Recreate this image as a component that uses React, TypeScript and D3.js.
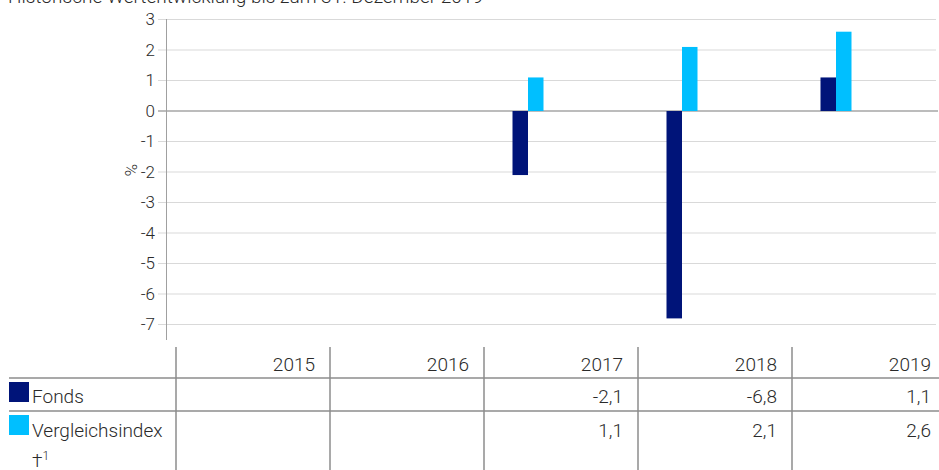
import React from "react";
import * as d3 from "d3";

const years = ["2015", "2016", "2017", "2018", "2019"];
const seriesNames = ["Fonds", "Vergleichsindex"];
const fonds: (number | null)[] = [null, null, -2.1, -6.8, 1.1];
const index: (number | null)[] = [null, null, 1.1, 2.1, 2.6];
const fondsLabels = ["", "", "-2,1", "-6,8", "1,1"];
const indexLabels = ["", "", "1,1", "2,1", "2,6"];
const yTicks = [3, 2, 1, 0, -1, -2, -3, -4, -5, -6, -7];
const colors = ["#001479", "#00bfff"];

const W = 939;
const H = 470;
const FONT = "Roboto, 'Liberation Sans', sans-serif";
const TXT = "#2a2a2a";

export default function App() {
  const y = d3.scaleLinear().domain([-7, 3]).range([324.5, 19.5]);
  const xBars = d3.scaleBand<string>().domain(years).range([143, 913]);
  const xSub = d3.scaleBand<string>().domain(seriesNames).range([0, 31]).padding(0);
  const offset = (xBars.bandwidth() - 31) / 2;
  const xTable = d3.scaleBand<string>().domain(years).range([176, 946]);
  const axisX = 166.5;
  const gridRight = 936;

  const series = [fonds, index];
  const labels = [fondsLabels, indexLabels];

  const rowLines = [378, 411];
  return (
    <svg width={W} height={H} style={{ position: "absolute", left: 0, top: 0, fontFamily: FONT, fontWeight: 300 }}>
      <text x={8} y={3} fontSize={19} fill={TXT}>
        Historische Wertentwicklung bis zum 31. Dezember 2019
      </text>
      {yTicks.map((t) => (
        <g key={t}>
          <line
            x1={158}
            x2={t === 0 ? 938 : gridRight}
            y1={y(t)}
            y2={y(t)}
            stroke={t === 0 ? "#a6a6a6" : "#d9d9d9"}
            strokeWidth={t === 0 ? 1.5 : 1}
          />
          <text x={155} y={y(t)} dy="0.35em" textAnchor="end" fontSize={17} fill={TXT}>
            {t < 0 ? "-" + Math.abs(t) : String(t)}
          </text>
        </g>
      ))}
      <line x1={axisX} x2={axisX} y1={19} y2={340} stroke="#a0a0a0" strokeWidth={1} />
      <text
        transform={`translate(131,170) rotate(90)`}
        textAnchor="middle"
        dy="0.35em"
        fontSize={17}
        fill={TXT}
      >
        %
      </text>
      {series.map((s, si) =>
        s.map((v, i) =>
          v == null ? null : (
            <rect
              key={si + "-" + i}
              x={(xBars(years[i]) as number) + offset + (xSub(seriesNames[si]) as number)}
              width={xSub.bandwidth()}
              y={Math.min(y(v), y(0))}
              height={Math.abs(y(v) - y(0))}
              fill={colors[si]}
            />
          )
        )
      )}
      {rowLines.map((ly) => (
        <line key={ly} x1={9} x2={W} y1={ly} y2={ly} stroke="#8c8c8c" strokeWidth={1.5} />
      ))}
      {years.map((yr) => (
        <line
          key={"v" + yr}
          x1={xTable(yr)}
          x2={xTable(yr)}
          y1={347}
          y2={H}
          stroke="#8c8c8c"
          strokeWidth={1.5}
        />
      ))}
      {years.map((yr, i) => (
        <g key={"t" + yr}>
          <text x={(xTable(yr) as number) + xTable.bandwidth() - 15} y={371} textAnchor="end" fontSize={19} fill={TXT}>
            {yr}
          </text>
          <text x={(xTable(yr) as number) + xTable.bandwidth() - 15} y={403} textAnchor="end" fontSize={19} fill={TXT}>
            {labels[0][i]}
          </text>
          <text x={(xTable(yr) as number) + xTable.bandwidth() - 15} y={437} textAnchor="end" fontSize={19} fill={TXT}>
            {labels[1][i]}
          </text>
        </g>
      ))}
      <rect x={9} y={382} width={20} height={20} fill={colors[0]} />
      <text x={32} y={403} fontSize={19} fill={TXT}>
        {seriesNames[0]}
      </text>
      <rect x={9} y={415} width={20} height={20} fill={colors[1]} />
      <text x={32} y={437} fontSize={19} fill={TXT}>
        {seriesNames[1]}
      </text>
      <text x={32} y={467} fontSize={19} fill={TXT}>
        †<tspan fontSize={12} dy={-7}>1</tspan>
      </text>
    </svg>
  );
}
